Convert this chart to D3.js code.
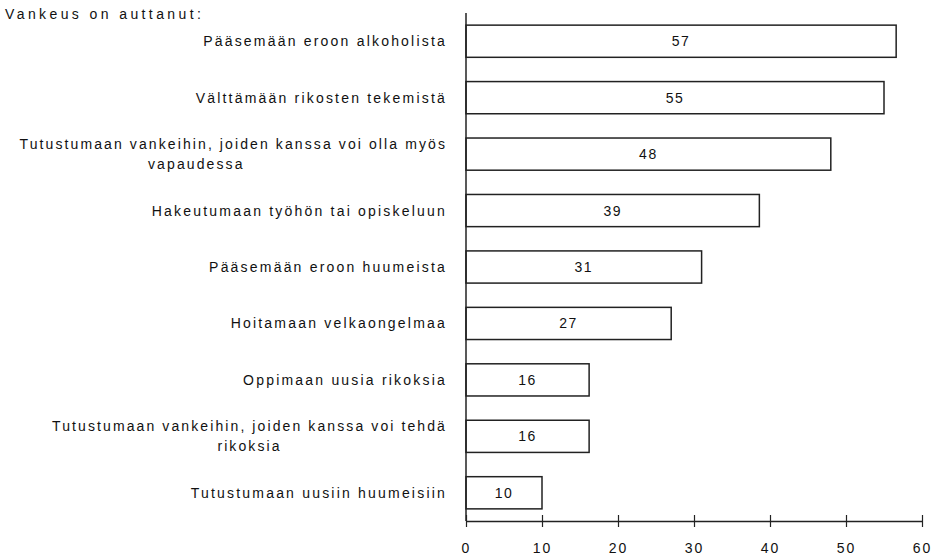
<!DOCTYPE html>
<html><head><meta charset="utf-8">
<script src="https://cdn.jsdelivr.net/npm/d3@7"></script>
<style>
body{margin:0;background:#fff;}
text{font-family:"Liberation Sans",Arial,sans-serif;fill:#111;}
</style></head>
<body><svg id="c" width="931" height="557"></svg>
<script>
const title = "Vankeus on auttanut:";
const categories = [
  ["Pääsemään eroon alkoholista"],
  ["Välttämään rikosten tekemistä"],
  ["Tutustumaan vankeihin, joiden kanssa voi olla myös", "vapaudessa"],
  ["Hakeutumaan työhön tai opiskeluun"],
  ["Pääsemään eroon huumeista"],
  ["Hoitamaan velkaongelmaa"],
  ["Oppimaan uusia rikoksia"],
  ["Tutustumaan vankeihin, joiden kanssa voi tehdä", "rikoksia"],
  ["Tutustumaan uusiin huumeisiin"]
];
const values = [56.6, 55, 48, 38.6, 31, 27, 16.2, 16.2, 10];
const labels = [57, 55, 48, 39, 31, 27, 16, 16, 10];
const ticks = [0, 10, 20, 30, 40, 50, 60];

const svg = d3.select("#c");
const x = d3.scaleLinear().domain([0, 60]).range([466, 922]);
const y = d3.scaleBand().domain(d3.range(categories.length)).range([13, 521]).paddingInner(0.43).paddingOuter(0.215);

svg.append("text").attr("x", 5).attr("y", 19).attr("font-size", 14).attr("letter-spacing", 3.4).text(title);

// bars
svg.selectAll("rect.bar").data(values).join("rect")
  .attr("class", "bar")
  .attr("x", x(0)).attr("y", (d, i) => y(i))
  .attr("width", d => x(d) - x(0)).attr("height", y.bandwidth())
  .attr("fill", "#fff").attr("stroke", "#222").attr("stroke-width", 1.5);

// value labels
svg.selectAll("text.val").data(values).join("text")
  .attr("class", "val")
  .attr("x", d => (x(0) + x(d)) / 2).attr("y", (d, i) => y(i) + y.bandwidth() / 2 + 5)
  .attr("text-anchor", "middle").attr("font-size", 14).attr("letter-spacing", 1.5)
  .text((d, i) => labels[i]);

// category labels
categories.forEach((lines, i) => {
  const cy = y(i) + y.bandwidth() / 2;
  if (lines.length === 1) {
    svg.append("text").attr("x", 447).attr("y", cy + 5).attr("text-anchor", "end")
      .attr("font-size", 14).attr("letter-spacing", 2.2).text(lines[0]);
  } else {
    const t1 = svg.append("text").attr("x", 447).attr("y", cy - 5).attr("text-anchor", "end")
      .attr("font-size", 14).attr("letter-spacing", 2.1).text(lines[0]);
    const w = t1.node().getComputedTextLength();
    svg.append("text").attr("x", 447 - w / 2 - (i === 2 ? 37 : 0)).attr("y", cy + 15).attr("text-anchor", "middle")
      .attr("font-size", 14).attr("letter-spacing", 2.1).text(lines[1]);
  }
});

// y axis line
svg.append("line").attr("x1", x(0)).attr("x2", x(0)).attr("y1", 13).attr("y2", 521)
  .attr("stroke", "#222").attr("stroke-width", 1.5);

// x axis
const xa = svg.append("g").attr("transform", "translate(0,521)")
  .call(d3.axisBottom(x).tickValues(ticks).tickSize(6).tickPadding(16).tickSizeOuter(0));
xa.select(".domain").attr("stroke", "#222").attr("stroke-width", 1.5);
xa.selectAll(".tick line").attr("y1", -6).attr("y2", 6).attr("stroke", "#222").attr("stroke-width", 1.2);
xa.selectAll(".tick text").attr("font-size", 14).attr("letter-spacing", 2)
  .attr("font-family", "'Liberation Sans',Arial,sans-serif").attr("fill", "#111");
</script></body></html>
